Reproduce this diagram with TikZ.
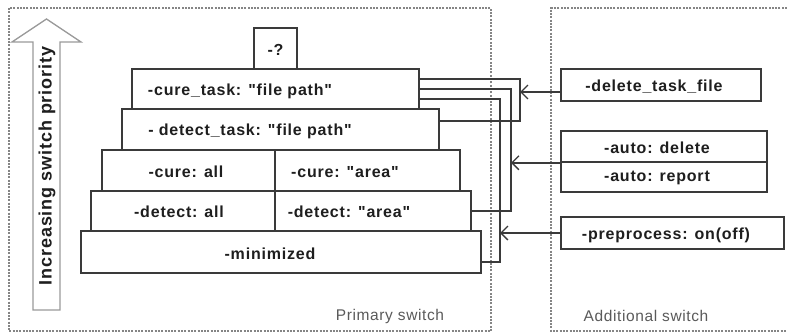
\documentclass[tikz,border=0pt]{standalone}
\usepackage{fontspec}
\setmainfont{Liberation Sans}
\newfontfamily\bxfont[LetterSpace=5]{Liberation Sans}
\newfontfamily\lbfont[LetterSpace=4]{Liberation Sans}
\newfontfamily\arfont[LetterSpace=5]{Liberation Sans}
\usetikzlibrary{arrows.meta,fit}
\definecolor{linec}{HTML}{3A3A3A}
\definecolor{txtc}{HTML}{1E1E1E}
\definecolor{lblc}{HTML}{5A5A5A}
\definecolor{dashc}{HTML}{858585}
\definecolor{upc}{HTML}{9A9A9A}
\begin{document}
\begin{tikzpicture}[x=1pt,y=-1pt,
  box/.style={draw=linec, line width=1.6pt, fill=white, inner sep=0pt},
  txt/.style={text=txtc, font=\bxfont\bfseries\fontsize{16}{18}\selectfont, inner sep=0pt},
  lbl/.style={text=lblc, font=\lbfont\fontsize{15.5}{17}\selectfont, inner sep=0pt},
  frame/.style={draw=dashc, line width=1.8pt, dash pattern=on 2pt off 1.3pt},
  conn/.style={draw=linec, line width=1.5pt},
  arr/.style={conn, -{Straight Barb[length=7pt,width=14pt,line width=1.3pt]}}]
\useasboundingbox (0,0) rectangle (787,333);
\fill[white] (0,0) rectangle (787,333);
% frames
\draw[frame] (9,8) rectangle (491,331);
\draw[frame] (787,8) -- (551,8) -- (551,331) -- (787,331);
\node[lbl] (lp) at (390,316) {Primary switch};
\node[lbl] (la) at (646,316) {Additional switch};
% up arrow
\draw[draw=upc, fill=white, line width=1.3pt] (33,310) -- (33,42) -- (12,42) -- (46.5,19) -- (81,42) -- (60,42) -- (60,310) -- cycle;
\node[rotate=90, text=txtc, font=\arfont\bfseries\fontsize{18}{20}\selectfont, inner sep=0pt] (pr) at (47,166) {Increasing switch priority};
% primary boxes
\node[box, fit={(254,28)(297,69)}] (q) {};
\node[box, fit={(132,69)(419,109)}] (ct) {};
\node[box, fit={(122,109)(439,150)}] (dt) {};
\node[box, fit={(102,150)(275,191)}] (ca) {};
\node[box, fit={(275,150)(460,191)}] (cr) {};
\node[box, fit={(91,191)(275,231)}] (da) {};
\node[box, fit={(275,191)(471,231)}] (dr) {};
\node[box, fit={(81,231)(481,273)}] (mn) {};
\node[txt] at (275.5,50) {-?};
\node[txt] at (240,91) {-cure\_task: "file path"};
\node[txt] at (250,131) {- detect\_task: "file path"};
\node[txt] at (186,172) {-cure: all};
\node[txt] at (345,172) {-cure: "area"};
\node[txt] at (179,212) {-detect: all};
\node[txt] at (349,212) {-detect: "area"};
\node[txt] at (270,254) {-minimized};
% additional boxes
\node[box, fit={(561,69)(761,101)}] (del) {};
\node[box, fit={(561,131)(767,162)}] (ad) {};
\node[box, fit={(561,162)(767,192)}] (ar) {};
\node[box, fit={(561,217)(784,249)}] (pp) {};
\node[txt] at (654,87) {-delete\_task\_file};
\node[txt] at (657,148) {-auto: delete};
\node[txt] at (657,178) {-auto: report};
\node[txt] at (666,235) {-preprocess: on(off)};
% connectors
\coordinate (v1) at (520,0);
\coordinate (v2) at (511,0);
\coordinate (v3) at (500,0);
\draw[conn] ([yshift=10pt]ct.east) -- ([yshift=10pt]ct.east -| v1) |- ([yshift=8.5pt]dt.east);
\draw[conn] (ct.east) -- (ct.east -| v2) |- (dr.east);
\draw[conn] ([yshift=-10pt]ct.east) -- ([yshift=-10pt]ct.east -| v3) |- ([yshift=-10pt]mn.east);
\draw[arr] ([yshift=-7pt]del.west) -- ([yshift=-7pt]del.west -| v1);
\draw[arr] (ad.south west) -- (ad.south west -| v2);
\draw[arr] (pp.west) -- (pp.west -| v3);
\end{tikzpicture}
\end{document}
